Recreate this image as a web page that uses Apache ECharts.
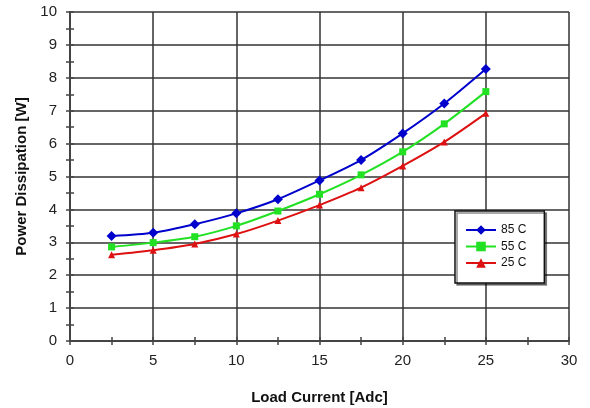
<!DOCTYPE html>
<html>
<head>
<meta charset="utf-8">
<script src="https://cdn.jsdelivr.net/npm/echarts@6/dist/echarts.min.js"></script>
<style>html,body{margin:0;padding:0;background:#fff}#c{width:590px;height:408px}</style>
</head>
<body>
<div id="c"></div>
<script>
const loadCurrent = [2.5, 5, 7.5, 10, 12.5, 15, 17.5, 20, 22.5, 25];
const p85 = [3.19, 3.29, 3.55, 3.88, 4.31, 4.88, 5.50, 6.31, 7.22, 8.27];
const p55 = [2.86, 2.99, 3.17, 3.50, 3.95, 4.46, 5.05, 5.75, 6.60, 7.58];
const p25 = [2.62, 2.76, 2.95, 3.25, 3.66, 4.13, 4.66, 5.32, 6.05, 6.92];
const seriesNames = ['85 C', '55 C', '25 C'];
const xTitle = 'Load Current [Adc]';
const yTitle = 'Power Dissipation [W]';

const font = 'Liberation Sans, Arial, sans-serif';
const gridLine = { show: true, lineStyle: { color: '#333', width: 1.5 } };
const tickStyle = { color: '#444', width: 1.5 };
const innerTick = { show: true, inside: true, length: 4, lineStyle: tickStyle };
function pairs(ys) { return loadCurrent.map((x, i) => [x, ys[i]]); }
function frameAxis(position, max, interval) {
  return {
    type: 'value', min: 0, max: max, interval: interval, position: position,
    axisLine: { show: true, lineStyle: tickStyle },
    axisTick: innerTick,
    axisLabel: { show: false }, splitLine: { show: false }
  };
}

const chart = echarts.init(document.getElementById('c'), null, { renderer: 'canvas' });
chart.setOption({
  animation: false,
  backgroundColor: '#fff',
  grid: { left: 70, right: 21, top: 12, bottom: 67, show: false, containLabel: false, outerBoundsMode: 'none' },
  xAxis: [{
    type: 'value', min: 0, max: 30, interval: 5, position: 'bottom',
    name: xTitle, nameLocation: 'middle', nameGap: 49,
    nameTextStyle: { fontFamily: font, fontWeight: 'bold', fontSize: 15, color: '#111' },
    axisLine: { show: true, lineStyle: tickStyle },
    axisTick: { show: false },
    axisLabel: { fontFamily: font, fontSize: 15, color: '#222', margin: 12 },
    splitLine: gridLine
  }, frameAxis('top', 30, 2.5), frameAxis('bottom', 30, 2.5)],
  yAxis: [{
    type: 'value', min: 0, max: 10, interval: 1, position: 'left',
    name: yTitle, nameLocation: 'middle', nameGap: 38,
    nameTextStyle: { fontFamily: font, fontWeight: 'bold', fontSize: 15, color: '#111' },
    axisLine: { show: true, lineStyle: tickStyle },
    axisTick: { show: false },
    axisLabel: { fontFamily: font, fontSize: 15, color: '#222', margin: 13 },
    splitLine: gridLine
  }, frameAxis('right', 10, 0.5), frameAxis('left', 10, 0.5)],
  legend: {
    left: 455, top: 211, orient: 'vertical',
    padding: [13, 18, 14, 10], itemGap: 4.5, itemWidth: 30, itemHeight: 12,
    backgroundColor: '#fff', borderColor: '#111', borderWidth: 1.5, borderRadius: 0,
    shadowColor: 'rgba(0,0,0,0.45)', shadowOffsetX: 2, shadowOffsetY: 2, shadowBlur: 0,
    textStyle: { fontFamily: font, fontSize: 12, color: '#111' },
    data: seriesNames
  },
  series: [
    { name: seriesNames[0], type: 'line', data: pairs(p85), smooth: 0.25,
      color: '#0000cc', symbol: 'diamond', symbolSize: 10,
      lineStyle: { width: 2, color: '#0000cc' }, itemStyle: { color: '#0000cc' } },
    { name: seriesNames[1], type: 'line', data: pairs(p55), smooth: 0.25,
      color: '#22e022', symbol: 'rect', symbolSize: 7,
      lineStyle: { width: 2, color: '#22e022' }, itemStyle: { color: '#22e022' } },
    { name: seriesNames[2], type: 'line', data: pairs(p25), smooth: 0.25,
      color: '#dd1111', symbol: 'triangle', symbolSize: 7,
      lineStyle: { width: 2, color: '#dd1111' }, itemStyle: { color: '#dd1111' } }
  ]
});
</script>
</body>
</html>
